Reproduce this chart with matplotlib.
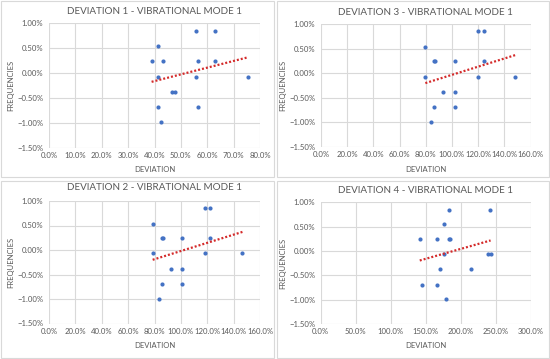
import numpy as np
import matplotlib
matplotlib.use("Agg")
import matplotlib.pyplot as plt
from matplotlib.patches import Rectangle
from matplotlib.ticker import FuncFormatter, MultipleLocator

plt.rcParams['font.family'] = ['Lato', 'DejaVu Sans']

# Data (values in percent)
titles = ["DEVIATION 1 - VIBRATIONAL MODE 1", "DEVIATION 3 - VIBRATIONAL MODE 1",
          "DEVIATION 2 - VIBRATIONAL MODE 1", "DEVIATION 4 - VIBRATIONAL MODE 1"]

dev1_x = [38.9, 41.2, 41.2, 43.1, 41.5, 42.4, 46.6, 47.7, 55.9, 56.4, 55.9, 56.4, 63.0, 63.0, 75.3]
dev1_y = [0.24, 0.54, -0.07, 0.24, -0.68, -0.98, -0.38, -0.38, 0.85, 0.24, -0.07, -0.68, 0.85, 0.24, -0.07]

dev3_x = [79.7, 79.7, 86.4, 87.4, 86.4, 84.3, 93.5, 102.7, 102.7, 102.7, 119.7, 124.3, 124.3, 119.7, 148.3]
dev3_y = [0.53, -0.07, 0.24, 0.24, -0.69, -0.99, -0.38, -0.38, 0.24, -0.69, 0.85, 0.85, 0.24, -0.07, -0.07]

dev2_x = [78.6, 78.6, 85.5, 86.2, 85.5, 83.2, 92.3, 100.6, 101.1, 101.1, 118.3, 122.4, 122.4, 118.3, 146.7]
dev2_y = [0.54, -0.07, 0.24, 0.24, -0.69, -0.99, -0.38, -0.38, 0.24, -0.69, 0.85, 0.85, 0.24, -0.07, -0.07]

dev4_x = [141.5, 144.4, 166.7, 166.7, 170.0, 175.7, 176.2, 179.0, 183.3, 183.3, 185.2, 215.1, 238.9, 242.7, 242.2]
dev4_y = [0.24, -0.69, 0.24, -0.69, -0.38, 0.55, -0.07, -0.99, 0.85, 0.24, 0.24, -0.38, -0.07, -0.07, 0.85]

xmax = [80, 160, 160, 300]
xstep = [10, 20, 20, 50]
series = [(dev1_x, dev1_y), (dev3_x, dev3_y), (dev2_x, dev2_y), (dev4_x, dev4_y)]

W, H = 550, 359
fig = plt.figure(figsize=(W / 100, H / 100), dpi=100)

# layout in pixels
ax_px = [(49, 23.3, 260, 148), (321, 24, 530.5, 147),
         (49, 201, 260, 323.5), (320.7, 202.3, 530.7, 324)]
box_px = [(1, 1, 274, 177), (277, 1, 549, 177), (1, 181, 274, 358), (277, 181, 549, 358)]
title_y = [12, 12, 188, 190]
xlab_y = [169, 170, 346, 345]
ylab_x = [11, 283, 11, 282.3]

grey = '#595959'
grid = '#D9D9D9'

for i in range(4):
    l, t, r, b = ax_px[i]
    ax = fig.add_axes([l / W, 1 - b / H, (r - l) / W, (b - t) / H])
    bl, bt, br, bb = box_px[i]
    fig.patches.append(Rectangle((bl / W, 1 - bb / H), (br - bl) / W, (bb - bt) / H,
                                 transform=fig.transFigure, fill=False,
                                 edgecolor=grid, linewidth=0.8))
    x, y = series[i]
    x = np.array(x); y = np.array(y)
    ax.set_xlim(0, xmax[i])
    ax.set_ylim(-1.5, 1.0)
    ax.xaxis.set_major_locator(MultipleLocator(xstep[i]))
    ax.yaxis.set_major_locator(MultipleLocator(0.5))
    ax.xaxis.set_major_formatter(FuncFormatter(lambda v, p: f"{v:.1f}%"))
    ax.yaxis.set_major_formatter(FuncFormatter(lambda v, p: f"{v:.2f}%".replace('-', '\u2212')))
    ax.grid(True, color=grid, linewidth=0.8)
    ax.set_axisbelow(True)
    for s in ax.spines.values():
        s.set_visible(False)
    ax.tick_params(length=0, labelsize=5.6, colors=grey)
    ax.tick_params(axis='y', pad=4.0)
    ax.tick_params(axis='x', pad=3.0)
    ax.scatter(x, y, s=9, color='#4472C4', zorder=3, linewidths=0)
    k, c = np.polyfit(x, y, 1)
    xs = np.array([x.min(), x.max()])
    ax.plot(xs, k * xs + c, color='#D42A2A', linestyle=(0, (0.9, 0.9)), linewidth=1.6, zorder=4)
    h = b - t
    w = r - l
    ax.set_title(titles[i], fontsize=7.1, color=grey, pad=0, y=1 + (t - title_y[i]) / h, va='center')
    ax.set_xlabel("DEVIATION", fontsize=5.5, color=grey)
    ax.xaxis.set_label_coords(0.5, -(xlab_y[i] - b) / h)
    ax.xaxis.label.set_va('center')
    ax.set_ylabel("FREQUENCIES", fontsize=5.5, color=grey)
    ax.yaxis.set_label_coords(-(l - ylab_x[i]) / w, 0.5)
    ax.yaxis.label.set_va('center')

fig.savefig("out.png", dpi=100)
